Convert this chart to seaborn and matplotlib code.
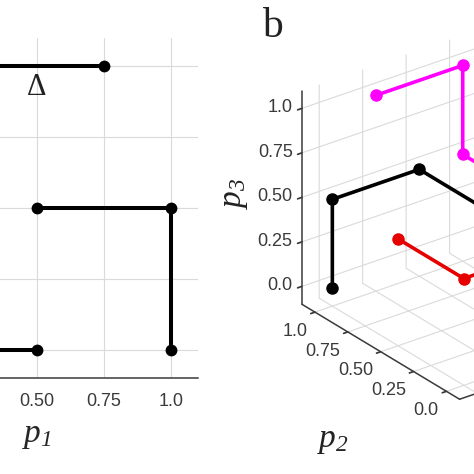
import numpy as np
import pandas as pd
import matplotlib
matplotlib.use("Agg")
import matplotlib.pyplot as plt
import seaborn as sns

# ---------------------------------------------------------
# data
# ---------------------------------------------------------
TICKS = [0.0, 0.25, 0.5, 0.75, 1.0]
TICK_LABELS = ["0.0", "0.25", "0.50", "0.75", "1.0"]

# panel a: three step segments in the (p1, p3) plane
seg_top_p1 = [0.0, 0.75]
seg_top_p3 = [1.0, 1.0]
seg_mid_p1 = [0.5, 1.0, 1.0]
seg_mid_p3 = [0.5, 0.5, 0.0]
seg_low_p1 = [0.0, 0.5]
seg_low_p3 = [0.0, 0.0]

# panel b: three paths in (p1, p2, p3)
black_p1 = [0.0, 0.0, 0.5, 0.5]
black_p2 = [1.0, 1.0, 1.0, 0.5]
black_p3 = [0.0, 0.5, 0.5, 0.5]

magenta_p1 = [0.25, 0.75, 0.75, 0.75]
magenta_p2 = [1.0, 1.0, 1.0, 0.5]
magenta_p3 = [1.0, 1.0, 0.5, 0.5]

red_p1 = [0.0, 0.0, 0.5]
red_p2 = [0.5, 0.0, 0.0]
red_p3 = [0.5, 0.5, 0.5]

LIM = (-0.1, 1.1)

sns.set_theme(style="white")
plt.rcParams.update({
    "font.family": ["Liberation Sans", "DejaVu Sans"],
    "mathtext.fontset": "custom",
    "mathtext.it": "Liberation Serif:italic",
    "mathtext.rm": "Liberation Serif:italic",
    "grid.color": "#dadada",
    "grid.linewidth": 0.8,
    "axes.edgecolor": "#3a3a3a",
    "xtick.color": "#3a3a3a",
    "ytick.color": "#3a3a3a",
    "text.color": "#222222",
})

fig = plt.figure(figsize=(4.74, 4.74), dpi=100)

# ---------------------------------------------------------
# panel a (2D, mostly cropped on the left)
# ---------------------------------------------------------
ax = fig.add_axes([-0.2616, 0.2025, 0.679, 0.717])
seg = pd.DataFrame({
    "p1": seg_top_p1 + seg_mid_p1 + seg_low_p1,
    "p3": seg_top_p3 + seg_mid_p3 + seg_low_p3,
    "seg": ["top"] * len(seg_top_p1) + ["mid"] * len(seg_mid_p1) + ["low"] * len(seg_low_p1),
})
sns.lineplot(data=seg, x="p1", y="p3", units="seg", estimator=None, sort=False,
             color="black", linewidth=2.9, marker="o", markersize=8.5,
             markeredgecolor="black", markeredgewidth=0, ax=ax)
ax.set_xlim(*LIM)
ax.set_ylim(*LIM)
# labels left of the crop are not shown
ax.set_xticks(TICKS, ["", ""] + TICK_LABELS[2:])
ax.set_yticks(TICKS)
ax.grid(True)
ax.tick_params(direction="in", length=6, width=1.1, labelsize=13, pad=11,
               labelleft=False)
for side in ["top", "right"]:
    ax.spines[side].set_visible(False)
ax.spines["bottom"].set_linewidth(1.1)
ax.set_xlabel(r"$p_1$", fontsize=24, labelpad=7)
ax.set_ylabel("")
ax.text(0.5, 0.925, "\u0394", fontsize=22, family="Liberation Serif",
        ha="center", va="center")

# ---------------------------------------------------------
# panel b (3D, cropped on the right)
# ---------------------------------------------------------
ax3 = fig.add_axes([0.5595, 0.0954, 0.903, 0.903], projection="3d")
ax3.patch.set_alpha(0)
ax3.set_proj_type("ortho")
ax3.view_init(elev=27.1, azim=-127.1)
ax3.set_box_aspect((1.09, 1.09, 1.0))

ax3.plot(black_p1, black_p2, black_p3, "-o", color="black", lw=2.6, ms=8)
ax3.plot(red_p1, red_p2, red_p3, "-o", color="#e60000", lw=2.6, ms=8)
ax3.plot(magenta_p1, magenta_p2, magenta_p3, "-o", color="#ff00ff", lw=2.6, ms=8)

ax3.set_xlim(*LIM)
ax3.set_ylim(*LIM)
ax3.set_zlim(*LIM)
for axis in (ax3.xaxis, ax3.yaxis, ax3.zaxis):
    axis.set_ticks(TICKS, TICK_LABELS)
    axis.set_pane_color((1, 1, 1, 0))
    axis.line.set_color("#3a3a3a")
    axis.line.set_linewidth(1.1)
    axis._axinfo["tick"]["inward_factor"] = 0.25
    axis._axinfo["tick"]["outward_factor"] = 0.0
ax3.tick_params(labelsize=13, colors="#3a3a3a")
ax3.yaxis.set_tick_params(pad=-2)
ax3.zaxis.set_tick_params(pad=-4)
for lab in ax3.yaxis.get_ticklabels():
    lab.set_horizontalalignment("right")
for lab in ax3.zaxis.get_ticklabels():
    lab.set_horizontalalignment("right")
    lab.set_verticalalignment("center")

fig.text(272 / 474, 1 - 27 / 474, "b", fontsize=30, family="Liberation Serif",
         ha="center", va="center")
fig.text(333 / 474, 1 - 440 / 474, r"$p_2$", fontsize=24,
         ha="center", va="center")
fig.text(234 / 474, 1 - 193 / 474, r"$p_3$", fontsize=24,
         ha="center", va="center", rotation=90)

fig.savefig("out.png", dpi=100)
